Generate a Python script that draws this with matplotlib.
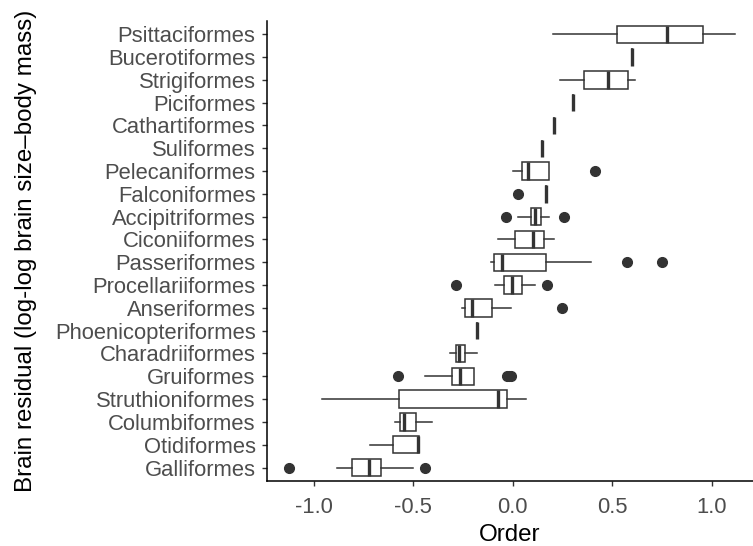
import numpy as np
import matplotlib
matplotlib.use("Agg")
import matplotlib.pyplot as plt

plt.rcParams["font.family"] = ["Liberation Sans", "DejaVu Sans"]

# one row per order, top to bottom as shown in the chart
orders = ["Psittaciformes", "Bucerotiformes", "Strigiformes", "Piciformes",
          "Cathartiformes", "Suliformes", "Pelecaniformes", "Falconiformes",
          "Accipitriformes", "Ciconiiformes", "Passeriformes", "Procellariiformes",
          "Anseriformes", "Phoenicopteriformes", "Charadriiformes", "Gruiformes",
          "Struthioniformes", "Columbiformes", "Otidiformes", "Galliformes"]

# box summaries (lower whisker, q1, median, q3, upper whisker)
whislo = [0.204, 0.601, 0.238, 0.305, 0.209, 0.149, 0.003, 0.166,
          0.025, -0.072, -0.111, -0.089, -0.256, -0.181, -0.315, -0.441,
          -0.960, -0.592, -0.717, -0.882]
q1 = [0.526, 0.601, 0.358, 0.305, 0.209, 0.149, 0.045, 0.166,
      0.090, 0.013, -0.094, -0.044, -0.240, -0.181, -0.287, -0.304,
      -0.572, -0.567, -0.600, -0.806]
med = [0.774, 0.601, 0.481, 0.305, 0.209, 0.149, 0.079, 0.166,
       0.112, 0.104, -0.052, -0.002, -0.206, -0.181, -0.270, -0.265,
       -0.072, -0.545, -0.478, -0.722]
q3 = [0.955, 0.601, 0.581, 0.305, 0.209, 0.149, 0.181, 0.166,
      0.141, 0.157, 0.166, 0.045, -0.102, -0.181, -0.240, -0.193,
      -0.027, -0.488, -0.473, -0.664]
whishi = [1.118, 0.601, 0.615, 0.305, 0.209, 0.149, 0.181, 0.166,
          0.184, 0.208, 0.392, 0.112, -0.010, -0.181, -0.181, -0.193,
          0.067, -0.404, -0.473, -0.503]
outliers = [[], [], [], [], [], [], [0.414], [0.025],
            [-0.034, 0.260], [], [0.573, 0.752], [-0.287, 0.171],
            [0.246], [], [], [-0.578, -0.030, -0.020, -0.010],
            [], [], [], [-1.125, -0.441]]

xticks = [-1.0, -0.5, 0.0, 0.5, 1.0]

stats = []
for i, name in enumerate(orders):
    stats.append(dict(label=name, whislo=whislo[i], q1=q1[i], med=med[i],
                      q3=q3[i], whishi=whishi[i], fliers=outliers[i]))

fig = plt.figure(figsize=(7.53, 5.46), dpi=100)
ax = fig.add_axes([0.3542, 0.1187, 0.6458, 0.8436])

line = "#333333"
ax.bxp(stats, positions=np.arange(len(orders)), vert=False, widths=0.76,
       showcaps=False, patch_artist=True,
       boxprops=dict(facecolor="white", edgecolor=line, linewidth=1.1),
       whiskerprops=dict(color=line, linewidth=1.1),
       medianprops=dict(color=line, linewidth=2.4, solid_capstyle="butt"),
       flierprops=dict(marker="o", markerfacecolor=line, markeredgecolor=line,
                       markersize=7, linestyle="none"))

ax.set_ylim(len(orders) - 0.4, -0.6)
ax.set_xlim(-1.237, 1.208)
ax.set_xticks(xticks)
ax.set_xticklabels([f"{t:.1f}" for t in xticks])

for side in ("top", "right"):
    ax.spines[side].set_visible(False)
for side in ("left", "bottom"):
    ax.spines[side].set_linewidth(1.1)
    ax.spines[side].set_color("black")

ax.tick_params(axis="both", length=3.5, width=1.0, color="#333333",
               labelsize=15.8, labelcolor="#4D4D4D")
ax.tick_params(axis="y", pad=4.5)
ax.tick_params(axis="x", pad=8)

ax.set_xlabel("Order", fontsize=17.4, color="black")
ax.set_ylabel("Brain residual (log-log brain size\u2013body mass)",
              fontsize=17.4, color="black")
ax.xaxis.set_label_coords(0.5, -0.092)
ax.yaxis.set_label_coords(-0.473, 0.5)

fig.savefig("out.png", dpi=100)
